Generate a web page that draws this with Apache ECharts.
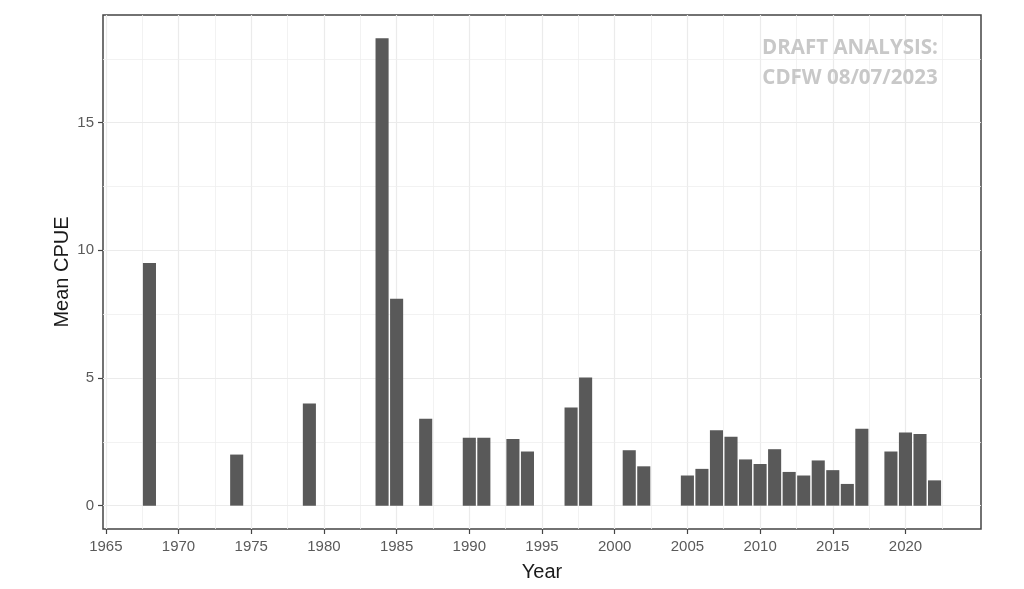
<!DOCTYPE html>
<html>
<head>
<meta charset="utf-8">
<title>Mean CPUE by Year</title>
<script src="https://cdn.jsdelivr.net/npm/echarts@6/dist/echarts.min.js"></script>
<style>
  html, body { margin: 0; padding: 0; background: #fff; }
  #chart { width: 1024px; height: 589px; }
</style>
</head>
<body>
<div id="chart"></div>
<script>
// survey years and mean CPUE
var years = [1968, 1974, 1979, 1984, 1985, 1987, 1990, 1991, 1993, 1994,
             1997, 1998, 2001, 2002, 2005, 2006, 2007, 2008, 2009, 2010,
             2011, 2012, 2013, 2014, 2015, 2016, 2017, 2019, 2020, 2021, 2022];
var cpue = [9.5, 2.0, 4.0, 18.3, 8.1, 3.4, 2.66, 2.66, 2.61, 2.12,
            3.84, 5.02, 2.17, 1.54, 1.18, 1.44, 2.95, 2.70, 1.81, 1.63,
            2.21, 1.32, 1.18, 1.77, 1.39, 0.85, 3.01, 2.12, 2.86, 2.81, 0.99];

// axis breaks (ggplot style major / minor)
var xTicks = [1965, 1970, 1975, 1980, 1985, 1990, 1995, 2000, 2005, 2010, 2015, 2020];
var xMinor = [1967.5, 1972.5, 1977.5, 1982.5, 1987.5, 1992.5, 1997.5, 2002.5, 2007.5, 2012.5, 2017.5, 2022.5];
var yTicks = [0, 5, 10, 15];
var yMinor = [2.5, 7.5, 12.5, 17.5];

var chart = echarts.init(document.getElementById('chart'));

var gridLines = [];
xTicks.forEach(function (v) { gridLines.push({ xAxis: v, lineStyle: { width: 1.2, color: '#ebebeb' } }); });
xMinor.forEach(function (v) { gridLines.push({ xAxis: v, lineStyle: { width: 0.8, color: '#efefef' } }); });
yTicks.forEach(function (v) { gridLines.push({ yAxis: v, lineStyle: { width: 1.2, color: '#ebebeb' } }); });
yMinor.forEach(function (v) { gridLines.push({ yAxis: v, lineStyle: { width: 0.8, color: '#efefef' } }); });

var barData = years.map(function (y, i) { return [y, cpue[i]]; });

chart.setOption({
  animation: false,
  textStyle: { fontFamily: 'Liberation Sans, Arial, sans-serif' },
  grid: {
    left: 103, right: 43, top: 15, bottom: 60,
    show: true, borderColor: '#444', borderWidth: 1.5, backgroundColor: 'transparent'
  },
  xAxis: {
    type: 'value',
    min: 1964.805,
    max: 2025.195,
    name: 'Year',
    nameLocation: 'middle',
    nameGap: 33,
    nameTextStyle: { fontSize: 20, color: '#1a1a1a' },
    axisLine: { show: false, onZero: false },
    axisTick: { show: true, length: 5, customValues: xTicks, lineStyle: { color: '#444', width: 1.2 } },
    axisLabel: {
      customValues: xTicks, fontSize: 15, color: '#5a5a5a', margin: 10,
      formatter: function (v) { return String(v); }
    },
    splitLine: { show: false }
  },
  yAxis: {
    type: 'value',
    min: -0.915,
    max: 19.215,
    name: 'Mean CPUE',
    nameLocation: 'middle',
    nameGap: 31,
    nameMoveOverlap: false,
    nameTextStyle: { fontSize: 20, color: '#1a1a1a' },
    axisLine: { show: false, onZero: false },
    axisTick: { show: true, length: 5, customValues: yTicks, lineStyle: { color: '#444', width: 1.2 } },
    axisLabel: { customValues: yTicks, fontSize: 15, color: '#5a5a5a', margin: 9 },
    splitLine: { show: false }
  },
  series: [
    {
      // panel grid lines
      type: 'line',
      data: [],
      z: 1,
      silent: true,
      markLine: {
        silent: true,
        z: 1,
        symbol: 'none',
        label: { show: false },
        emphasis: { disabled: true },
        lineStyle: { type: 'solid' },
        data: gridLines
      }
    },
    {
      type: 'bar',
      data: barData,
      barWidth: '90%',
      z: 2,
      itemStyle: { color: '#595959' }
    }
  ],
  graphic: [
    {
      type: 'text', z: 10,
      style: {
        text: 'DRAFT ANALYSIS:', x: 850, y: 48, align: 'center', verticalAlign: 'middle',
        font: 'bold 20.5px "Open Sans", sans-serif', fill: '#c8c8c8'
      }
    },
    {
      type: 'text', z: 10,
      style: {
        text: 'CDFW 08/07/2023', x: 850, y: 78, align: 'center', verticalAlign: 'middle',
        font: 'bold 20.5px "Open Sans", sans-serif', fill: '#c8c8c8'
      }
    }
  ]
});
</script>
</body>
</html>
